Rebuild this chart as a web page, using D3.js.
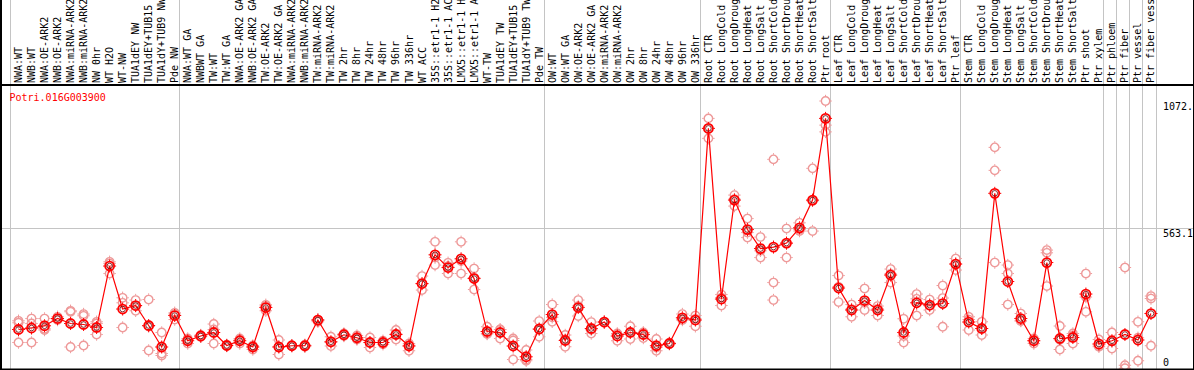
<!DOCTYPE html>
<html>
<head>
<meta charset="utf-8">
<script src="https://cdn.jsdelivr.net/npm/d3@7"></script>
<style>
body{margin:0;background:#fff;}
svg{display:block;}
text{font-family:"DejaVu Sans Mono",monospace;font-size:10px;}
</style>
</head>
<body>
<script>
var geneName="Potri.016G003900";

var labels=["NWA:WT","NWB:WT","NWA:OE-ARK2","NWB:OE-ARK2","NWA:miRNA-ARK2","NWB:miRNA-ARK2","NW 0hr","WT H2O","WT-NW","TUA1dEY NW","TUA1dEY+TUB15 NW","TUA1dY+TUB9 NW","Pde NW",
"NWA:WT GA","NWBWT GA","TW:WT","TW:WT GA","NWA:OE-ARK2 GA","NWB:OE-ARK2 GA","TW:OE-ARK2","TW:OE-ARK2 GA","NWA:miRNA-ARK2 GA","NWB:miRNA-ARK2 GA","TW:miRNA-ARK2","TW:miRNA-ARK2 GA",
"TW 2hr","TW 8hr","TW 24hr","TW 48hr","TW 96hr","TW 336hr","WT ACC","35S::etr1-1 H2O","35S::etr1-1 ACC","LMX5::etr1-1 H2O","LMX5::etr1-1 ACC","WT-TW","TUA1dEY TW","TUA1dEY+TUB15 TW","TUA1dY+TUB9 TW","Pde TW",
"OW:WT","OW:WT GA","OW:OE-ARK2","OW:OE-ARK2 GA","OW:miRNA-ARK2","OW:miRNA-ARK2 GA","OW 2hr","OW 8hr","OW 24hr","OW 48hr","OW 96hr","OW 336hr",
"Root CTR","Root LongCold","Root LongDrought","Root LongHeat","Root LongSalt","Root ShortCold","Root ShortDrought","Root ShortHeat","Root ShortSalt","Ptr root",
"Leaf CTR","Leaf LongCold","Leaf LongDrought","Leaf LongHeat","Leaf LongSalt","Leaf ShortCold","Leaf ShortDrought","Leaf ShortHeat","Leaf ShortSalt","Ptr leaf",
"Stem CTR","Stem LongCold","Stem LongDrought","Stem LongHeat","Stem LongSalt","Stem ShortCold","Stem ShortDrought","Stem ShortHeat","Stem ShortSalt","Ptr shoot",
"Ptr xylem","Ptr phloem","Ptr fiber","Ptr vessel","Ptr fiber vessel"];

// group separators (a grey line is drawn before these columns)
var groupBreaks=[0,13,41,53,63,73,84,85,86,87,88];

var meanVals=[158,164,173,202,182,178,166,412,240,254,174,88,214,
113,132,146,94,113,88,246,88,93,93,196,109,137,125,106,106,138,92,342,457,406,441,362,150,146,92,49,160,
218,114,246,162,188,132,146,138,93,102,205,196,
963,280,676,558,482,488,504,565,676,1003,
324,236,274,236,376,146,265,256,262,420,
188,162,703,350,202,113,426,122,126,300,
100,113,138,116,222];

var rep1=[193,202,202,209,233,220,189,429,285,276,278,146,225,
122,136,180,97,122,94,257,116,94,97,198,129,142,134,126,113,156,102,372,509,425,509,402,169,158,122,76,192,
258,136,276,188,190,142,171,145,120,105,220,214,
1003,298,696,602,528,839,562,585,803,1072.5,
374,258,322,252,400,201,300,278,334,442,
209,189,887,416,222,122,476,172,142,382,
118,146,406,189,292];

var rep2=[185,182,161,196,229,213,182,422,265,233,74,62,220,
102,129,102,92,102,78,252,58,92,89,193,92,132,118,86,99,118,73,316,416,382,382,318,142,122,38,33,129,
189,89,212,142,185,113,120,124,73,99,196,171,
923,254,652,526,446,346,446,558,552,976,
268,209,236,214,346,106,214,236,169,396,
156,136,795,382,193,102,465,78,102,229,
89,82,15,33,282];

var rep3=[106,106,156,201,88,94,138,382,166,252,170,54,198,
116,129,158,94,116,89,233,89,93,93,189,106,137,122,106,106,141,95,340,446,412,432,366,140,158,114,38,158,
207,118,252,157,188,140,147,146,86,102,200,201,
963,286,680,546,473,276,502,552,673,949,
329,240,265,241,381,132,281,253,284,421,
198,162,426,258,192,114,332,117,134,288,
92,110,3,125,93];

var yMax=1126.2;
var yTicks=[0,563.1,1072.5];

var drawChart=function(w,h)
{
  var svg=d3.select("body").append("svg")
            .attr("width",w)
            .attr("height",h);

  svg.append("rect").attr("width",w).attr("height",h).attr("fill","#fff");

  var plot={left:10.5,right:1156,top:87.6,bottom:369,header:85};

  var xScale=d3.scaleBand()
               .domain(d3.range(labels.length))
               .range([plot.left,plot.right]);
  var yScale=d3.scaleLinear()
               .domain([0,yMax])
               .range([plot.bottom,plot.top]);
  var px=function(i){ return xScale(i)+8; };

  // grid
  svg.append("g").selectAll("line")
     .data(groupBreaks)
     .enter()
     .append("line")
     .attr("x1",function(d){ return d<labels.length ? xScale(d) : plot.right; })
     .attr("x2",function(d){ return d<labels.length ? xScale(d) : plot.right; })
     .attr("y1",0)
     .attr("y2",plot.bottom)
     .attr("stroke","#c4c4c4")
     .attr("stroke-width",1)
     .attr("shape-rendering","crispEdges");

  svg.append("line")
     .attr("x1",0).attr("x2",w)
     .attr("y1",yScale(yTicks[1])).attr("y2",yScale(yTicks[1]))
     .attr("stroke","#c4c4c4")
     .attr("shape-rendering","crispEdges");

  // column labels
  svg.append("g").selectAll("text")
     .data(labels)
     .enter()
     .append("text")
     .attr("transform",function(d,i){ return "translate("+(px(i)+3.5)+",83) rotate(-90)"; })
     .attr("fill","#000")
     .text(function(d){ return d; });

  // title
  svg.append("text")
     .attr("x",9.5)
     .attr("y",101)
     .attr("fill","#ff0000")
     .text(geneName);

  // y labels on the right
  svg.append("clipPath").attr("id","rclip")
     .append("rect").attr("x",0).attr("y",0).attr("width",1192.5).attr("height",h);
  svg.append("g").attr("clip-path","url(#rclip)")
     .selectAll("text")
     .data(yTicks)
     .enter()
     .append("text")
     .attr("x",1163)
     .attr("y",function(d){ return d==0 ? 366 : yScale(d)+9; })
     .attr("fill","#000")
     .text(function(d){ return d; });

  // replicates
  var reps=[];
  [rep1,rep2,rep3].forEach(function(arr){
    arr.forEach(function(v,i){ reps.push({i:i,v:v}); });
  });

  var marker=function(g,color,r,sw)
  {
    g.append("circle")
     .attr("r",r)
     .attr("fill","none")
     .attr("stroke",color)
     .attr("stroke-width",sw);
    [[0,-1],[0,1],[-1,0],[1,0]].forEach(function(t){
      g.append("line")
       .attr("x1",t[0]*(r+0.5)).attr("y1",t[1]*(r+0.5))
       .attr("x2",t[0]*(r+2)).attr("y2",t[1]*(r+2))
       .attr("stroke",color)
       .attr("stroke-width",1);
    });
  };

  svg.append("g").selectAll("g")
     .data(reps)
     .enter()
     .append("g")
     .attr("transform",function(d){ return "translate("+px(d.i)+","+yScale(d.v)+")"; })
     .each(function(){ marker(d3.select(this),"#ee9999",4.2,1.4); });

  // mean line
  var line=d3.line()
             .x(function(d,i){ return px(i); })
             .y(function(d){ return yScale(d); });
  svg.append("path")
     .datum(meanVals)
     .attr("d",line)
     .attr("fill","none")
     .attr("stroke","#ff0000")
     .attr("stroke-width",1.2);

  var means=svg.append("g").selectAll("g")
     .data(meanVals)
     .enter()
     .append("g")
     .attr("transform",function(d,i){ return "translate("+px(i)+","+yScale(d)+")"; });
  means.each(function(){ marker(d3.select(this),"#ff0000",4.5,1.8); });
  means.append("circle")
       .attr("r",2.8)
       .attr("fill","none")
       .attr("stroke","#660000")
       .attr("stroke-width",0.8);

  // frame
  svg.append("line").attr("x1",0).attr("x2",w).attr("y1",plot.header).attr("y2",plot.header)
     .attr("stroke","#000").attr("stroke-width",2);
  svg.append("line").attr("x1",0).attr("x2",w).attr("y1",plot.bottom+0.5).attr("y2",plot.bottom+0.5)
     .attr("stroke","#000").attr("stroke-width",2);
  svg.append("line").attr("x1",1).attr("x2",1).attr("y1",0).attr("y2",h)
     .attr("stroke","#000").attr("stroke-width",2);
  svg.append("line").attr("x1",1193.5).attr("x2",1193.5).attr("y1",0).attr("y2",h)
     .attr("stroke","#000").attr("stroke-width",1);
};

drawChart(1194,370);
</script>
</body>
</html>
